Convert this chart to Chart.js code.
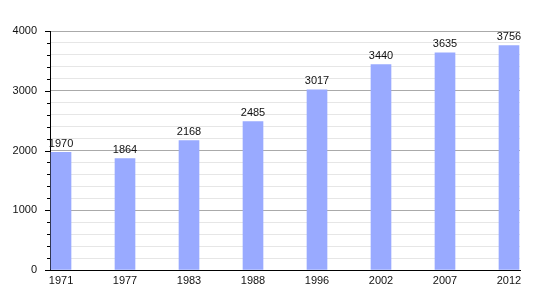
<!DOCTYPE html>
<html>
<head>
<meta charset="utf-8">
<script src="https://cdn.jsdelivr.net/npm/chart.js@4"></script>
<style>
  html, body { margin: 0; padding: 0; background: #fff; }
  #wrap { width: 550px; height: 300px; }
</style>
</head>
<body>
<div id="wrap"><canvas id="popChart" width="550" height="300"></canvas></div>
<script>
// Données : années et population
const years = ['1971', '1977', '1983', '1988', '1996', '2002', '2007', '2012'];
const population = [1970, 1864, 2168, 2485, 3017, 3440, 3635, 3756];
const yTicks = [0, 1000, 2000, 3000, 4000];

const font = { family: '"Liberation Sans", Arial, sans-serif', size: 11 };

// Étiquettes au-dessus des barres + petites graduations de l'axe Y
const barLabels = {
    id: 'barLabels',
    afterDatasetsDraw(chart) {
        const ctx = chart.ctx;
        const meta = chart.getDatasetMeta(0);
        ctx.save();
        ctx.fillStyle = '#111';
        ctx.font = `${font.size}px ${font.family}`;
        ctx.textAlign = 'center';
        ctx.textBaseline = 'bottom';
        meta.data.forEach((bar, i) => {
            ctx.fillText(String(population[i]), bar.x, bar.y - 3);
        });
        ctx.restore();
    },
    afterDraw(chart) {
        const ctx = chart.ctx;
        const y = chart.scales.y;
        const left = chart.chartArea.left;
        ctx.save();
        ctx.strokeStyle = '#000';
        ctx.lineWidth = 1;
        for (let v = 0; v <= 4000; v += 200) {
            const py = Math.round(y.getPixelForValue(v)) + 0.5;
            const len = yTicks.includes(v) ? 5 : 3;
            ctx.beginPath();
            ctx.moveTo(left - len, py);
            ctx.lineTo(left, py);
            ctx.stroke();
        }
        ctx.restore();
    }
};

const ctx = document.getElementById('popChart').getContext('2d');
new Chart(ctx, {
    type: 'bar',
    data: {
        datasets: [{
            data: population.map((v, i) => ({ x: i, y: v })),
            backgroundColor: '#99aaff',
            borderWidth: 0,
            barThickness: 20
        }]
    },
    options: {
        responsive: false,
        animation: false,
        layout: { padding: { top: 31, right: 30, left: 0, bottom: 0 } },
        plugins: {
            legend: { display: false },
            tooltip: { enabled: false }
        },
        scales: {
            x: {
                type: 'linear',
                offset: false,
                min: -0.172,
                max: 7.172,
                afterBuildTicks: scale => {
                    scale.ticks = years.map((_, i) => ({ value: i }));
                },
                afterFit: scale => { scale.height = 30; },
                grid: { display: false, drawTicks: false },
                border: { display: true, color: '#000', width: 1 },
                ticks: {
                    callback: v => years[v],
                    color: '#111',
                    font: font,
                    padding: 4,
                    maxRotation: 0,
                    autoSkip: false
                }
            },
            y: {
                min: 0,
                max: 4000,
                afterBuildTicks: scale => {
                    const t = [];
                    for (let v = 0; v <= 4000; v += 200) t.push({ value: v });
                    scale.ticks = t;
                },
                afterFit: scale => { scale.width = 50; },
                grid: {
                    drawTicks: false,
                    color: c => (c.tick && c.tick.value % 1000 === 0) ? '#aaaaaa' : '#e6e6e6',
                    lineWidth: 1
                },
                border: { display: true, color: '#000', width: 1 },
                ticks: {
                    callback: v => (v % 1000 === 0 ? String(v) : ''),
                    color: '#111',
                    font: font,
                    padding: 13,
                    autoSkip: false
                }
            }
        }
    },
    plugins: [barLabels]
});
</script>
</body>
</html>
